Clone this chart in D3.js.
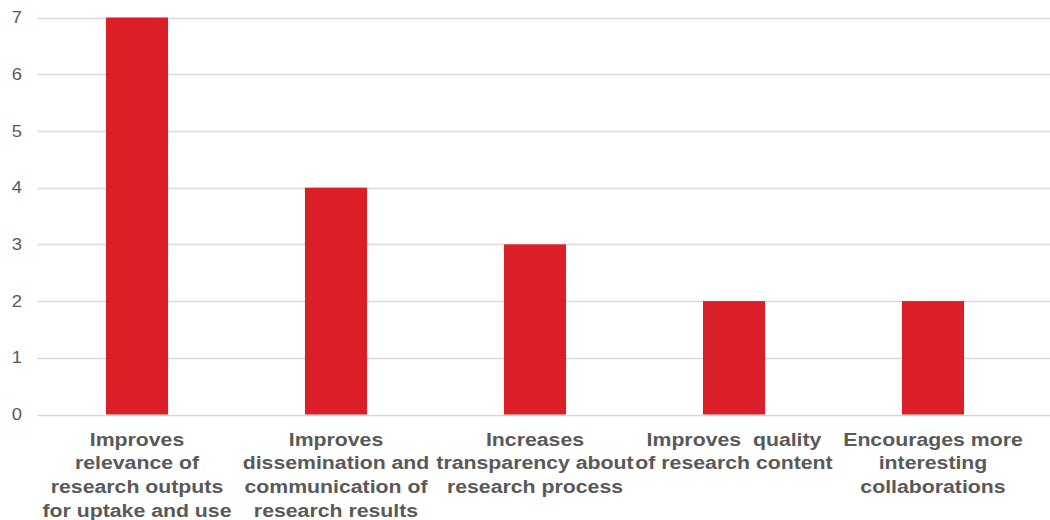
<!DOCTYPE html>
<html>
<head>
<meta charset="utf-8">
<script src="https://cdn.jsdelivr.net/npm/d3@7"></script>
<style>
  html, body { margin: 0; padding: 0; background: #fff; }
  svg { display: block; }
</style>
</head>
<body>
<svg id="chart" width="1050" height="520"></svg>
<script>
// Benefits reported, with counts per category
const categories = [
  ["Improves", "relevance of", "research outputs", "for uptake and use"],
  ["Improves", "dissemination and", "communication of", "research results"],
  ["Increases", "transparency about", "research process"],
  ["Improves  quality", "of research content"],
  ["Encourages more", "interesting", "collaborations"]
];
const counts = [7, 4, 3, 2, 2];
const yTicks = [0, 1, 2, 3, 4, 5, 6, 7];

const svg = d3.select("#chart");
const plot = { left: 37.5, right: 1032.5, top: 17.5, bottom: 414.5 };
const stretch = 1.15; // text is drawn slightly wide

const x = d3.scaleBand()
  .domain(d3.range(categories.length))
  .range([plot.left, plot.right])
  .paddingInner(0.688)
  .paddingOuter(0.344);

const y = d3.scaleLinear()
  .domain([0, 7])
  .range([plot.bottom, plot.top]);

// Horizontal gridlines
svg.append("g")
  .selectAll("line")
  .data(yTicks)
  .join("line")
  .attr("x1", plot.left)
  .attr("x2", 1050)
  .attr("y1", d => Math.round(y(d)) + 0.5)
  .attr("y2", d => Math.round(y(d)) + 0.5)
  .attr("stroke", "#d9d9d9")
  .attr("stroke-width", 1.5);

// Y axis tick labels
svg.append("g")
  .selectAll("text")
  .data(yTicks)
  .join("text")
  .attr("transform", d => `translate(22,${y(d)}) scale(${stretch},1)`)
  .attr("dy", "0.35em")
  .attr("text-anchor", "end")
  .attr("font-family", "Liberation Sans, Arial, sans-serif")
  .attr("font-size", 16)
  .attr("fill", "#595959")
  .text(d => d);

// Bars
svg.append("g")
  .selectAll("rect")
  .data(counts)
  .join("rect")
  .attr("x", (d, i) => x(i))
  .attr("width", x.bandwidth())
  .attr("y", d => y(d))
  .attr("height", d => y(0) - y(d))
  .attr("fill", "#da1f28");

// Category labels, wrapped over several lines
const labels = svg.append("g")
  .selectAll("text")
  .data(categories)
  .join("text")
  .attr("text-anchor", "middle")
  .attr("font-family", "Liberation Sans, Arial, sans-serif")
  .attr("font-weight", "bold")
  .attr("font-size", 18.5)
  .attr("fill", "#595959")
  .attr("transform", (d, i) => `translate(${x(i) + x.bandwidth() / 2},445.5) scale(${stretch},1)`);

labels.selectAll("tspan")
  .data(d => d)
  .join("tspan")
  .attr("x", 0)
  .attr("y", (d, i) => i * 24)
  .attr("xml:space", "preserve")
  .style("white-space", "pre")
  .text(d => d);
</script>
</body>
</html>
